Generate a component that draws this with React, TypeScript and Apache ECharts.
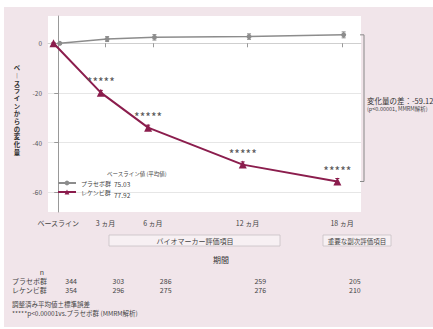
import React, { useEffect, useRef } from "react";
import * as echarts from "echarts";

const months = [0, 3, 6, 12, 18];
const xLabels = ["ベースライン", "3 ヵ月", "6 ヵ月", "12 ヵ月", "18 ヵ月"];
const placebo = [0, 1.7, 2.4, 2.7, 3.4];
const lecanemab = [0, -19.9, -34.0, -48.9, -55.7];
const placeboSE = [0.3, 1.0, 1.1, 1.1, 1.2];
const lecanemabSE = [0.3, 0.9, 1.0, 1.1, 1.2];
const nPlacebo = [344, 303, 286, 259, 205];
const nLecanemab = [354, 296, 275, 276, 210];
const yTicks = [0, -20, -40, -60];
const seriesNames = ["プラセボ群", "レケンビ群"];
const baselineMeans = ["75.03", "77.92"];
const diffText = "変化量の差：-59.12";
const yTitle = "ベ︱スラインからの変化量";

const FONT = "'Noto Sans CJK JP', 'Noto Sans', sans-serif";
const GRAY = "#8c8c8c";
const MAROON = "#8b1d4d";
const TXT = "#444";

const placeboOff = 0.1;
const lecOff = -0.3;

export default function App() {
  const ref = useRef<HTMLDivElement>(null);
  useEffect(() => {
    if (!ref.current) return;
    const chart = echarts.init(ref.current, null, { renderer: "svg" });
    const errRender = (color: string) => (params: any, api: any) => {
      const x = api.value(0);
      const lo = api.coord([x, api.value(1)]);
      const hi = api.coord([x, api.value(2)]);
      const st = { stroke: color, lineWidth: 1 };
      return {
        type: "group",
        children: [
          { type: "line", shape: { x1: lo[0], y1: lo[1], x2: hi[0], y2: hi[1] }, style: st },
          { type: "line", shape: { x1: lo[0] - 2, y1: lo[1], x2: lo[0] + 2, y2: lo[1] }, style: st },
          { type: "line", shape: { x1: hi[0] - 2, y1: hi[1], x2: hi[0] + 2, y2: hi[1] }, style: st },
        ],
      };
    };
    chart.setOption({
      animation: false,
      textStyle: { fontFamily: FONT },
      grid: {
        left: 48,
        top: 16,
        width: 313,
        height: 196,
        show: true,
        backgroundColor: "#ffffff",
        borderWidth: 0,
      },
      xAxis: {
        type: "value",
        min: -0.65,
        max: 19.2,
        axisLine: { show: true, lineStyle: { color: "#cfcfcf" } },
        axisTick: { show: true, customValues: months, length: 4, lineStyle: { color: "#999" } },
        axisLabel: {
          customValues: months,
          formatter: (v: number) => xLabels[months.indexOf(v)] ?? "",
          color: TXT,
          fontSize: 7,
          margin: 7,
          fontFamily: FONT,
        },
        splitLine: { show: false },
      },
      yAxis: {
        type: "value",
        min: -68,
        max: 11,
        axisLine: { show: true, lineStyle: { color: "#999" } },
        axisTick: { show: true, customValues: yTicks, length: 4, lineStyle: { color: "#999" } },
        axisLabel: { customValues: yTicks, color: "#555", fontSize: 6.5, margin: 6, fontFamily: FONT },
        splitLine: { show: true, lineStyle: { color: "#e6e6e6", width: 1 } },
      },
      legend: {
        data: seriesNames,
        orient: "vertical",
        left: 57,
        top: 180,
        padding: 0,
        itemWidth: 18,
        itemHeight: 6,
        itemGap: 3,
        selectedMode: false,
        textStyle: { fontFamily: FONT, fontSize: 6, color: TXT },
      },
      series: [
        {
          name: seriesNames[0],
          type: "line",
          data: placebo.map((v, i) => [months[i] + placeboOff, v]),
          symbol: "circle",
          symbolSize: 5,
          itemStyle: { color: GRAY },
          lineStyle: { color: GRAY, width: 1.5 },
          z: 3,
        },
        {
          name: seriesNames[1],
          type: "line",
          data: lecanemab.map((v, i) => ({
            value: [months[i] + lecOff, v],
            label: { show: i > 0 },
          })),
          symbol: "triangle",
          symbolSize: 8,
          itemStyle: { color: MAROON },
          lineStyle: { color: MAROON, width: 2 },
          label: {
            show: false,
            position: "top",
            distance: 1,
            formatter: () => "*****",
            fontSize: 12,
            color: "#555",
            fontFamily: FONT,
          },
          z: 4,
        },
        {
          type: "custom",
          name: "errP",
          renderItem: errRender(GRAY),
          data: placebo.map((v, i) => [months[i] + placeboOff, v - placeboSE[i], v + placeboSE[i]]),
          encode: { x: 0, y: [1, 2] },
          z: 2,
          silent: true,
        },
        {
          type: "custom",
          name: "errL",
          renderItem: errRender(MAROON),
          data: lecanemab.map((v, i) => [months[i] + lecOff, v - lecanemabSE[i], v + lecanemabSE[i]]),
          encode: { x: 0, y: [1, 2] },
          z: 2,
          silent: true,
        },
      ],
    });

    const px = (m: number, v: number) => chart.convertToPixel({ gridIndex: 0 }, [m, v]) as number[];
    const pTop = px(18, placebo[4]);
    const pBot = px(18, lecanemab[4]);
    const bx = 364;
    const extra: any[] = [];
    months.forEach((m, i) => {
      const x = px(m, 0)[0] + 7;
      extra.push({
        type: "text",
        x,
        y: 281,
        style: { text: String(nPlacebo[i]), fontSize: 7, fill: TXT, fontFamily: FONT, textVerticalAlign: "middle" },
      });
      extra.push({
        type: "text",
        x,
        y: 290,
        style: { text: String(nLecanemab[i]), fontSize: 7, fill: TXT, fontFamily: FONT, textVerticalAlign: "middle" },
      });
    });
    baselineMeans.forEach((v, i) => {
      extra.push({
        type: "text",
        x: 114,
        y: 183.5 + i * 11,
        style: { text: v, fontSize: 6.5, fill: TXT, fontFamily: FONT, textVerticalAlign: "middle" },
      });
    });
    chart.setOption({
      graphic: [
        {
          type: "polyline",
          shape: { points: [[bx - 4, pTop[1]], [bx, pTop[1]], [bx, pBot[1]], [bx - 4, pBot[1]]] },
          style: { stroke: "#888", lineWidth: 1, fill: "none" },
        },
        {
          type: "text",
          x: 367,
          y: (pTop[1] + pBot[1]) / 2 - 8,
          style: { text: diffText, fontSize: 7.5, fill: "#333", fontFamily: FONT, textVerticalAlign: "middle" },
        },
        {
          type: "text",
          x: 367,
          y: (pTop[1] + pBot[1]) / 2 + 0.5,
          style: { text: "(p<0.00001, MMRM解析)", fontSize: 5.5, fill: "#444", fontFamily: FONT, textVerticalAlign: "middle" },
        },
        {
          type: "text",
          x: 17,
          y: 110,
          style: {
            text: yTitle.split("").join("\n"),
            fontSize: 6.4,
            lineHeight: 7.7,
            fontWeight: "bold",
            fill: "#333",
            fontFamily: FONT,
            align: "center",
            verticalAlign: "middle",
          },
        },
        {
          type: "text",
          x: 107,
          y: 174,
          style: { text: "ベースライン値 (平均値)", fontSize: 5.5, fill: TXT, fontFamily: FONT, textVerticalAlign: "middle" },
        },
        {
          type: "rect",
          shape: { x: 109, y: 235, width: 171, height: 11 },
          style: { fill: "#f7f0f3", stroke: "#c8c0c4", lineWidth: 0.8 },
        },
        {
          type: "text",
          x: 195,
          y: 240.5,
          style: { text: "バイオマーカー評価項目", fontSize: 7, fill: TXT, fontFamily: FONT, textAlign: "center", textVerticalAlign: "middle" },
        },
        {
          type: "rect",
          shape: { x: 323, y: 235, width: 68, height: 11 },
          style: { fill: "#f7f0f3", stroke: "#c8c0c4", lineWidth: 0.8 },
        },
        {
          type: "text",
          x: 357,
          y: 240.5,
          style: { text: "重要な副次評価項目", fontSize: 6.5, fill: TXT, fontFamily: FONT, textAlign: "center", textVerticalAlign: "middle" },
        },
        {
          type: "text",
          x: 221,
          y: 259,
          style: { text: "期間", fontSize: 8, fill: "#333", fontFamily: FONT, textAlign: "center", textVerticalAlign: "middle" },
        },
        {
          type: "text",
          x: 42,
          y: 272,
          style: { text: "n", fontSize: 7, fill: TXT, fontFamily: FONT, textAlign: "center", textVerticalAlign: "middle" },
        },
        {
          type: "text",
          x: 12,
          y: 281,
          style: { text: seriesNames[0], fontSize: 7, fill: TXT, fontFamily: FONT, textVerticalAlign: "middle" },
        },
        {
          type: "text",
          x: 12,
          y: 290,
          style: { text: seriesNames[1], fontSize: 7, fill: TXT, fontFamily: FONT, textVerticalAlign: "middle" },
        },
        ...extra,
        {
          type: "text",
          x: 12,
          y: 304,
          style: { text: "調整済み平均値±標準誤差", fontSize: 6.5, fill: TXT, fontFamily: FONT, textVerticalAlign: "middle" },
        },
        {
          type: "text",
          x: 12,
          y: 313,
          style: { text: "*****p<0.00001vs.プラセボ群 (MMRM解析)", fontSize: 6.5, fill: TXT, fontFamily: FONT, textVerticalAlign: "middle" },
        },
      ],
    });
    return () => chart.dispose();
  }, []);

  return (
    <div style={{ position: "fixed", left: 0, top: 0, width: 433, height: 329, background: "#ffffff" }}>
      <div style={{ position: "absolute", left: 4, top: 7, width: 429, height: 320, background: "#f1e5ea" }} />
      <div ref={ref} style={{ position: "absolute", left: 0, top: 0, width: 433, height: 329 }} />
    </div>
  );
}
